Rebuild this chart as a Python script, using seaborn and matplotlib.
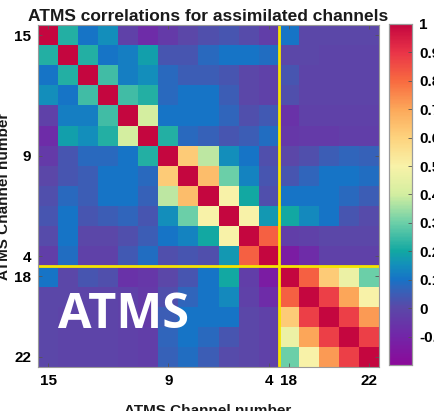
import numpy as np
import matplotlib
matplotlib.use("Agg")
import matplotlib.pyplot as plt
from matplotlib.colors import LinearSegmentedColormap
import seaborn as sns

# ATMS channels in the order they are assimilated
channels = [15, 14, 13, 12, 11, 10, 9, 8, 7, 6, 5, 4, 18, 19, 20, 21, 22]
tick_channels = [15, 9, 4, 18, 22]

# Upper triangle of the inter-channel correlation matrix (each row starts at the diagonal)
row_15 = [1.00, 0.22, 0.10, 0.15, -0.02, -0.08, -0.04, 0.00, 0.02, 0.03, 0.01, -0.03, 0.10, 0.00, 0.00, 0.00, 0.00]
row_14 = [1.00, 0.22, 0.10, 0.12, 0.18, 0.03, 0.03, 0.08, 0.10, 0.10, 0.09, 0.00, 0.00, -0.01, -0.01, -0.01]
row_13 = [1.00, 0.25, 0.12, 0.15, 0.08, 0.05, 0.05, 0.03, 0.00, -0.02, 0.03, -0.01, -0.01, -0.01, -0.01]
row_12 = [1.00, 0.25, 0.22, 0.08, 0.10, 0.10, 0.05, 0.00, -0.02, 0.02, -0.01, -0.01, -0.01, -0.01]
row_11 = [1.00, 0.40, 0.10, 0.10, 0.10, 0.07, 0.02, 0.04, -0.06, -0.02, -0.02, -0.02, -0.02]
row_10 = [1.00, 0.22, 0.08, 0.06, 0.03, 0.05, 0.09, -0.05, -0.04, -0.04, -0.03, -0.03]
row_9 = [1.00, 0.62, 0.38, 0.15, 0.10, 0.02, 0.00, 0.02, 0.05, 0.07, 0.06]
row_8 = [1.00, 0.65, 0.30, 0.13, 0.03, 0.03, 0.07, 0.10, 0.10, 0.09]
row_7 = [1.00, 0.50, 0.20, 0.02, 0.10, 0.10, 0.10, 0.08, 0.05]
row_6 = [1.00, 0.50, 0.17, 0.20, 0.14, 0.10, 0.03, 0.01]
row_5 = [1.00, 0.82, -0.03, -0.02, 0.00, 0.00, 0.00]
row_4 = [1.00, -0.13, -0.08, -0.02, -0.02, -0.02]
row_18 = [1.00, 0.82, 0.62, 0.47, 0.30]
row_19 = [1.00, 0.88, 0.70, 0.50]
row_20 = [1.00, 0.88, 0.72]
row_21 = [1.00, 0.88]
row_22 = [1.00]

upper_rows = [row_15, row_14, row_13, row_12, row_11, row_10, row_9, row_8,
              row_7, row_6, row_5, row_4, row_18, row_19, row_20, row_21, row_22]

n = len(channels)
corr = np.zeros((n, n))
for i, row in enumerate(upper_rows):
    corr[i, i:] = row
corr = corr + corr.T - np.diag(np.diag(corr))

# Colour map running purple -> blue -> teal -> yellow -> orange -> crimson
vmin, vmax = -0.2, 1.0
anchors = [
    (-0.20, "#8b0a99"), (-0.10, "#7226a8"), (0.00, "#5a48a8"), (0.07, "#2f66bb"),
    (0.10, "#1673c6"), (0.15, "#138fbb"), (0.20, "#12a8a2"), (0.30, "#6ccfa8"),
    (0.40, "#d3eea0"), (0.50, "#f8f2a8"), (0.60, "#fdd37e"), (0.70, "#fca85a"),
    (0.80, "#f86b40"), (0.90, "#ea3548"), (1.00, "#c4063f"),
]
cmap = LinearSegmentedColormap.from_list(
    "corr", [((v - vmin) / (vmax - vmin), c) for v, c in anchors])

plt.rcParams["font.family"] = ["Liberation Sans", "DejaVu Sans"]
plt.rcParams["font.weight"] = "bold"

W, H = 434, 411
fig = plt.figure(figsize=(W / 100, H / 100), dpi=100)
ax = fig.add_axes([38 / W, 1 - 367 / H, 341 / W, 342 / H])
cax = fig.add_axes([389 / W, 1 - 365 / H, 23 / W, 341 / H])

sns.heatmap(corr, ax=ax, cmap=cmap, vmin=vmin, vmax=vmax, cbar_ax=cax,
            xticklabels=False, yticklabels=False)

tick_pos = [channels.index(c) + 0.5 for c in tick_channels]
ax.set_xticks(tick_pos)
ax.set_xticklabels([str(c) for c in tick_channels], fontsize=11, fontweight="bold")
ax.set_yticks(tick_pos)
ax.set_yticklabels([str(c) for c in tick_channels], fontsize=11, fontweight="bold",
                   rotation=0)
ax.tick_params(direction="in", length=3, width=0.6, color="#555555",
               top=True, right=True, pad=5)
for s in ax.spines.values():
    s.set_visible(True)
    s.set_color("#9a9a9a")
    s.set_linewidth(0.8)

# Boundary between the temperature and humidity sounding channels
split = channels.index(18)
ax.axvline(split, color="#f5e400", lw=2)
ax.axhline(split, color="#f5e400", lw=2)

cb_ticks = np.round(np.arange(-0.1, 1.001, 0.1), 1)
cax.set_yticks(cb_ticks)
cax.set_yticklabels([f"{t:g}" for t in cb_ticks], fontsize=11, fontweight="bold")
cax.tick_params(direction="in", length=3, width=0.6, color="#555555", pad=5)
for s in cax.spines.values():
    s.set_visible(True)
    s.set_color("#9a9a9a")
    s.set_linewidth(0.8)

fig.text(208 / W, 1 - 21 / H, "ATMS correlations for assimilated channels",
         ha="center", va="baseline", fontsize=12.5, fontweight="bold", color="#1a1a1a")
fig.text(208 / W, 1 - 415 / H, "ATMS Channel number", ha="center", va="baseline",
         fontsize=11, fontweight="bold", color="#1a1a1a")
fig.text(-3 / W, 1 - 196 / H, "ATMS Channel number", ha="left", va="center",
         rotation=90, fontsize=11, fontweight="bold", color="#1a1a1a")

fig.text(124 / W, 1 - 316 / H, "ATMS", ha="center", va="center", color="white",
         fontsize=35, fontweight="bold", family=["Open Sans", "DejaVu Sans"])

fig.savefig("out.png", dpi=100)
